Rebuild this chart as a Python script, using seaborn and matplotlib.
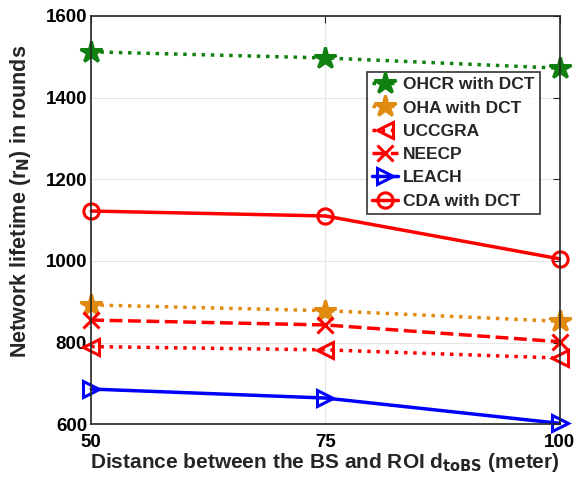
"""Network lifetime vs distance between BS and ROI."""

import matplotlib
matplotlib.use('Agg')
import matplotlib.pyplot as plt
import pandas as pd
import seaborn as sns

distance = [50, 75, 100]
ohcr = [1512, 1497, 1472]
oha = [892, 878, 852]
uccgra = [790, 782, 762]
neecp = [855, 843, 802]
leach = [686, 664, 602]
cda = [1122, 1110, 1005]

series = [
    ('OHCR with DCT', ohcr, '#108010', ':', '*'),
    ('OHA with DCT', oha, '#e08a10', ':', '*'),
    ('UCCGRA', uccgra, 'red', ':', '<'),
    ('NEECP', neecp, 'red', '--', 'x'),
    ('LEACH', leach, 'blue', '-', '>'),
    ('CDA with DCT', cda, 'red', '-', 'o'),
]

sns.set_style('white')
plt.rcParams['font.family'] = ['Liberation Sans', 'DejaVu Sans']
plt.rcParams['font.weight'] = 'bold'

fig = plt.figure(figsize=(5.81, 4.82), dpi=100)
ax = fig.add_axes([0.157, 0.120, 0.806, 0.847])

for name, values, color, ls, marker in series:
    df = pd.DataFrame({'distance': distance, 'rounds': values})
    filled = marker == '*'
    sns.lineplot(data=df, x='distance', y='rounds', ax=ax, label=name,
                 color=color, linestyle=ls, linewidth=2.5, marker=marker,
                 markersize=16 if filled else 11,
                 markerfacecolor=color if filled else 'none',
                 markeredgecolor=color, markeredgewidth=2.2, clip_on=False)

ax.set_xlim(50, 100)
ax.set_ylim(600, 1600)
ax.set_xticks([50, 75, 100])
ax.set_yticks([600, 800, 1000, 1200, 1400, 1600])
ax.grid(True, color='#e6e6e6', linewidth=0.8)
ax.tick_params(direction='in', labelsize=13.5, length=5, top=True, right=True,
               pad=3, colors='#262626', labelcolor='black')
ax.tick_params(axis='x', pad=7)
for lbl in ax.get_xticklabels() + ax.get_yticklabels():
    lbl.set_fontweight('bold')
for sp in ax.spines.values():
    sp.set_color('#262626')
    sp.set_linewidth(1.2)

ax.set_xlabel(r'Distance between the BS and ROI d$_{\mathbf{toBS}}$ (meter)',
              fontsize=15, fontweight='bold', labelpad=0)
ax.set_ylabel(r'Network lifetime (r$_{\mathbf{N}}$) in rounds',
              fontsize=15.5, fontweight='bold')
ax.yaxis.set_label_coords(-0.125, 0.545)

leg = ax.legend(loc='upper left', bbox_to_anchor=(0.588, 0.863), fontsize=12.5,
                frameon=True, fancybox=False, edgecolor='black',
                handlelength=1.5, handletextpad=0.3, borderpad=0.3,
                labelspacing=0.47, borderaxespad=0)
leg.get_frame().set_linewidth(1.2)
for t in leg.get_texts():
    t.set_fontweight('bold')

fig.savefig('out.png', dpi=100)
